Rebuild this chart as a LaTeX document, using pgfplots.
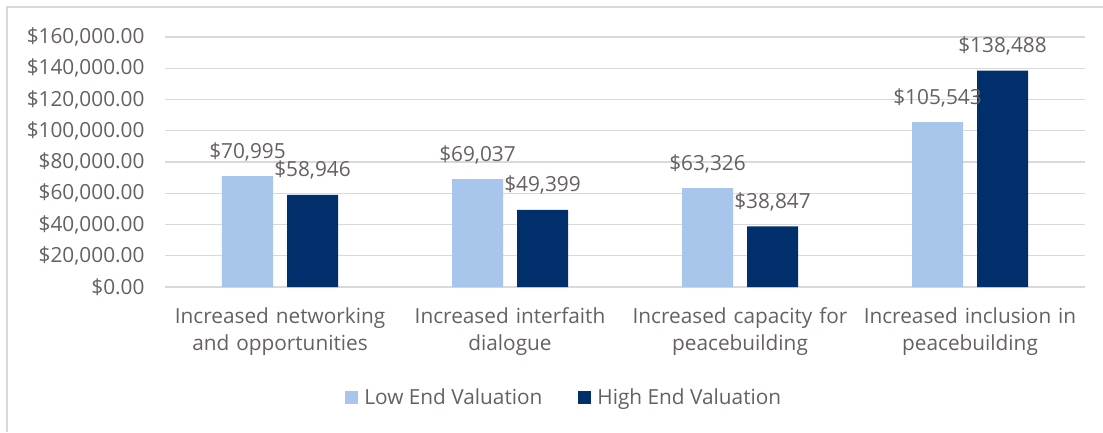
\documentclass[border=0pt]{standalone}
\usepackage{fontspec}
\setmainfont{Open Sans}
\usepackage{pgfplots}
\pgfplotsset{compat=1.18}
\definecolor{txt}{RGB}{102,96,94}
\definecolor{lowc}{RGB}{168,198,236}
\definecolor{highc}{RGB}{0,47,108}
\definecolor{gridc}{RGB}{217,217,217}
\begin{document}
\begin{tikzpicture}
\useasboundingbox (0,0) rectangle (1103pt,432pt);
\draw[gridc, line width=1.5pt] (7pt,0pt) -- (7pt,425pt) -- (1103pt,425pt);
\begin{axis}[
  at={(165pt,145pt)}, anchor=south west,
  width=920pt, height=250pt, scale only axis,
  ybar, enlargelimits=false, clip=false,
  xmin=-0.5, xmax=3.5, ymin=0, ymax=160000,
  scaled y ticks=false,
  axis line style={draw=none}, tick style={draw=none},
  ymajorgrids, grid style={gridc, line width=1.3pt},
  ytick={0,20000,40000,60000,80000,100000,120000,140000,160000},
  yticklabels={{\$0.00},{\$20,000.00},{\$40,000.00},{\$60,000.00},{\$80,000.00},{\$100,000.00},{\$120,000.00},{\$140,000.00},{\$160,000.00}},
  yticklabel style={font=\fontsize{20.8}{22}\selectfont, text=txt, xshift=-17pt},
  xtick={0,1,2,3},
  xticklabels={{Increased networking\\and opportunities},{Increased interfaith\\dialogue},{Increased capacity for\\peacebuilding},{Increased inclusion in\\peacebuilding}},
  xticklabel style={font=\fontsize{20.8}{27}\selectfont, text=txt, align=center, text width=230pt, yshift=-13pt},
  bar width=51pt,
  nodes near coords, point meta=explicit symbolic,
  every node near coord/.append style={font=\fontsize{20.8}{22}\selectfont, text=txt, anchor=base, yshift=18pt},
  legend style={draw=none, fill=none, at={(0.434,-0.44)}, anchor=center,
    legend columns=2, font=\fontsize{20.8}{22}\selectfont, text=txt,
    /tikz/every even column/.append style={column sep=34pt},
    legend cell align=left},
  legend image code/.code={\fill[#1] (0pt,-6.5pt) rectangle (13pt,6.5pt); \path (17pt,0pt);},
]
\addplot[fill=lowc, draw=none, bar shift=-32.5pt] coordinates {
  (0,70995) [{\$70,995}]
  (1,69037) [{\$69,037}]
  (2,63326) [{\$63,326}]
  (3,105543) [{\$105,543}]
};
\addlegendentry{Low End Valuation}
\addplot[fill=highc, draw=none, bar shift=32.5pt] coordinates {
  (0,58946) [{\$58,946}]
  (1,49399) [{\$49,399}]
  (2,38847) [{\$38,847}]
  (3,138488) [{\$138,488}]
};
\addlegendentry{High End Valuation}
\end{axis}
\end{tikzpicture}
\end{document}
